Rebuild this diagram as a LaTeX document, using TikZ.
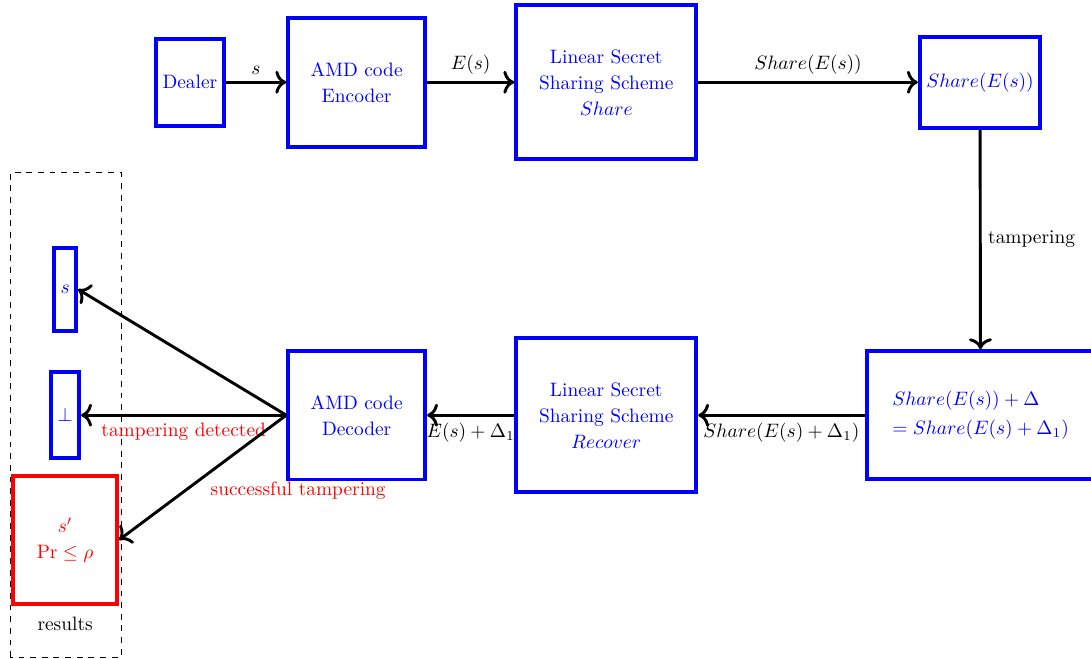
\documentclass[tikz,border=0pt]{standalone}
\usepackage{amsmath}
\usepackage{amssymb}
\usepackage{tikz}
\usepackage{xcolor}
\usetikzlibrary{arrows, arrows.meta, positioning, calc}

\begin{document}
\begin{tikzpicture}[
  box/.style={draw=blue, line width=2pt, text=blue, align=center, font=\fontsize{10}{13.4}\selectfont},
  badbox/.style={draw=red, line width=2pt, text=red, align=center, font=\fontsize{10}{13.4}\selectfont},
  flow/.style={-{To[scale=1.15]}, line width=1.5pt}]
\useasboundingbox (0,0) rectangle (19.76,11.92);

% Top row
\node[box, minimum height=1.57cm] (dealer) at (3.44,10.43) {Dealer};
\node[box, minimum width=2.48cm, minimum height=2.33cm] (encoder) at (6.46,10.43) {AMD code\\Encoder};
\node[box, minimum width=3.26cm, minimum height=2.79cm] (share) at (10.98,10.43) {Linear Secret\\Sharing Scheme\\$Share$};
\node[box, minimum height=1.65cm] (shares) at (17.75,10.43) {$Share(E(s))$};

% Bottom row
\node[box, align=left, minimum width=4.13cm, minimum height=2.32cm] (tampered) at (17.76,4.40) {$Share(E(s))+\Delta$\\[1.6pt]$=Share(E(s)+\Delta_1)$};
\node[box, minimum width=3.26cm, minimum height=2.79cm] (recover) at (10.98,4.40) {Linear Secret\\Sharing Scheme\\$Recover$};
\node[box, minimum width=2.48cm, minimum height=2.33cm] (decoder) at (6.46,4.40) {AMD code\\Decoder};

% Results
\draw[dashed] (0.18,0.02) rectangle (2.19,8.79);
\node[box, minimum height=1.5cm] (secret) at (1.18,6.68) {$s$};
\node[box, minimum height=1.56cm] (bot) at (1.18,4.40) {$\bot$};
\node[badbox, minimum width=1.88cm, minimum height=2.32cm] (forged) at (1.18,2.14) {$s'$\\$\Pr\leq\rho$};
\node (results) at (1.18,0.62) {results};

% Arrows
\draw[flow] (dealer) -- node[above] {$s$} (encoder);
\draw[flow] (encoder) -- node[above] {$E(s)$} (share);
\draw[flow] (share) -- node[above] {$Share(E(s))$} (shares);
\draw[flow] (shares) -- node[right] {tampering} (tampered);
\draw[flow] (tampered) -- node[below] {$Share(E(s)+\Delta_1)$} (recover);
\draw[flow] (recover) -- node[below] {$E(s)+\Delta_1$} (decoder);
\draw[flow] (decoder.west) -- (secret.east);
\draw[flow] (decoder.west) -- node[below, red] {tampering detected} (bot.east);
\draw[flow] (decoder.west) -- (forged.east);
\node[red] (success) at (5.40,3.04) {successful tampering};
\end{tikzpicture}
\end{document}
